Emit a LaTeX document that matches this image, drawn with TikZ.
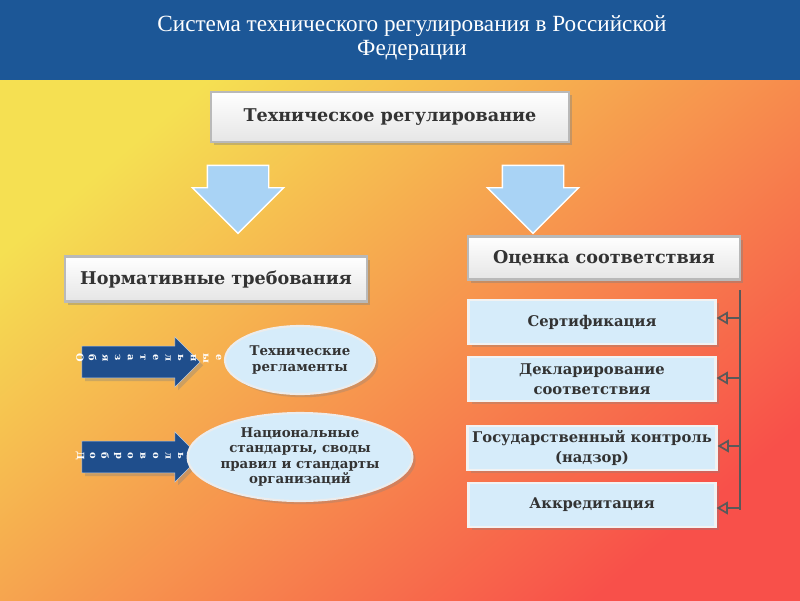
\documentclass[tikz,border=0pt]{standalone}
\usepackage{fontspec}
\setmainfont{Liberation Serif}
\newfontfamily\boxfont{DejaVu Serif}
\usetikzlibrary{shapes.arrows,shapes.geometric,shadows,arrows.meta}
\definecolor{topbar}{HTML}{1C5797}
\definecolor{navy}{HTML}{1F4E8C}
\definecolor{paleblue}{HTML}{D6ECFA}
\definecolor{skyblue}{HTML}{A9D3F5}
\definecolor{framegray}{HTML}{8A8A8A}
\definecolor{bgyellow}{HTML}{F5E052}
\definecolor{bgorange}{HTML}{F9A646}
\definecolor{bgred}{HTML}{F8504A}
\begin{document}
\begin{tikzpicture}[x=0.025cm,y=-0.025cm,
  greybox/.style={rectangle, draw=framegray!60, line width=2pt,
    top color=white, bottom color=gray!20, drop shadow={opacity=.4},
    font=\boxfont\bfseries\fontsize{12.5}{14}\selectfont, text=black!80},
  bluebox/.style={rectangle, draw=white!90!gray, line width=1.5pt,
    fill=paleblue, minimum width=247*0.025cm, minimum height=44*0.025cm,
    align=center, font=\boxfont\bfseries\fontsize{10.5}{14}\selectfont, text=black!80,
    drop shadow={opacity=.3}},
  oval/.style={ellipse, draw=white!85!gray, line width=1.5pt, fill=paleblue,
    align=center, font=\boxfont\bfseries\fontsize{9.5}{11}\selectfont, text=black!80,
    inner sep=0pt, drop shadow={opacity=.3}},
  downarrow/.style={single arrow, shape border rotate=270, fill=skyblue,
    draw=white, line width=1pt, inner xsep=30*0.025cm, inner ysep=18*0.025cm,
    single arrow head extend=15*0.025cm, single arrow tip angle=90},
  rightarrow/.style={single arrow, fill=navy, draw=white!70!navy,
    minimum height=118*0.025cm, minimum width=50*0.025cm,
    single arrow head extend=3pt, inner sep=5pt, drop shadow={opacity=.35}},
  letter/.style={rotate=-90, font=\boxfont\bfseries\fontsize{7}{7}\selectfont, text=white, inner sep=0pt},
  tip/.style={-{Triangle[open,length=8pt,width=9pt]}, draw=gray!70!black, line width=1.2pt}]
\useasboundingbox (0,0) rectangle (800,600);
% background
\shade[top color=bgyellow, middle color=bgorange, bottom color=bgred,
  shading angle=40] (0,80) rectangle (800,600);
\fill[topbar] (0,0) rectangle (800,80);
\node (title) [align=center, text=white, font=\fontsize{16.5}{17}\selectfont] at (412,38)
  {Система технического регулирования в Российской\\Федерации};

% top box and arrows
\node[greybox, minimum width=358*0.025cm, minimum height=50*0.025cm] (techreg) at (390,117)
  {Техническое регулирование};
\node[downarrow] (arrL) at (238,184) {};
\node[downarrow] (arrR) at (533,184) {};

% left column
\node[greybox, minimum width=302*0.025cm, minimum height=45*0.025cm] (norm) at (216,279)
  {Нормативные требования};
\node[rightarrow] (mand) at (133,362) {};
\node[rightarrow] (volun) at (133,457) {};
\foreach \ch [count=\i] in {О,б,я,з,а,т,е,л,ь,н,ы,е}
  \node[letter] at (80+12.6*\i-12.6,358) {\ch};
\foreach \ch [count=\i] in {Д,о,б,р,о,в,о,л,ь,н,ы,е}
  \node[letter] at (80+12.6*\i-12.6,456) {\ch};
\node[oval, minimum width=150*0.025cm, minimum height=68*0.025cm] (reglam) at (300,360)
  {Технические\\регламенты};
\node[oval, minimum width=178*0.025cm, minimum height=88*0.025cm] (natstd) at (300,457)
  {Национальные\\стандарты, своды\\правил и стандарты\\организаций};

% right column
\node[greybox, minimum width=272*0.025cm, minimum height=43*0.025cm] (conform) at (604,258)
  {Оценка соответствия};
\node[bluebox] (cert) at (592,322) {Сертификация};
\node[bluebox] (decl) at (592,379) {Декларирование\\соответствия};
\node[bluebox] (state) at (592,448) {Государственный контроль\\(надзор)};
\node[bluebox] (accr) at (592,505) {Аккредитация};

% bracket
\coordinate (btop) at (740,290);
\coordinate (bbot) at (740,510);
\draw[gray!70!black, line width=1.2pt] (btop) -- (bbot);
\foreach \n/\y in {cert/318,decl/378,state/446,accr/508}
  \draw[tip] (740,\y) -- (\n.east |- 0,\y);
\end{tikzpicture}
\end{document}
